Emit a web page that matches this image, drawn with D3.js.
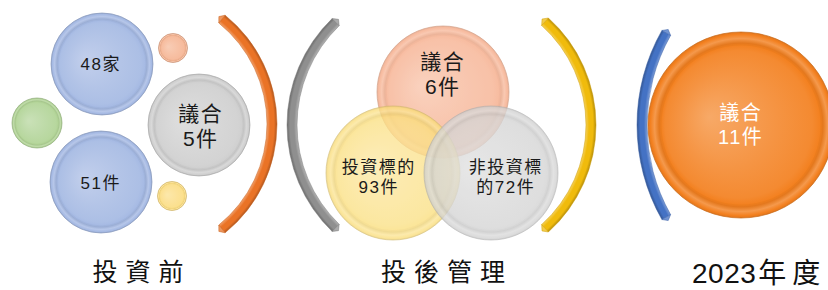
<!DOCTYPE html>
<html>
<head>
<meta charset="utf-8">
<script src="https://cdn.jsdelivr.net/npm/d3@7"></script>
<style>
  body { margin: 0; background: #fff; }
  svg { display: block; }
</style>
</head>
<body>
<svg id="chart" width="828" height="290"></svg>
<script>
// section captions under each group
const sections = ['投資前', '投後管理', '2023年度'];

// text in each bubble, one entry per line
const preLabels = [['48家'], ['51件'], ['議合', '5件']];
const postLabels = [['議合', '6件'], ['投資標的', '93件'], ['非投資標', '的72件']];
const yearLabels = [['議合', '11件']];

// layout (kept apart from the data above)
const preBubbles = [
  { cx: 102, cy: 64, r: 51, color: '#a5b9e3', tx: 100, ty: 64, size: 17 },
  { cx: 101, cy: 182, r: 51, color: '#a5b9e3', tx: 100, ty: 183, size: 17 },
  { cx: 199, cy: 125, r: 51, color: '#cfcfcf', tx: 200, ty: 126, size: 21 }
];
const preDots = [
  { cx: 37, cy: 123, r: 25, color: '#b1d396' },
  { cx: 173, cy: 48, r: 14.5, color: '#f5b594' },
  { cx: 172, cy: 196, r: 14.5, color: '#fbdd84' }
];
const postBubbles = [
  { cx: 443, cy: 92, r: 66, color: '#f6a985', tx: 442, ty: 74, size: 21 },
  { cx: 393, cy: 173, r: 67, color: '#fbde7c', tx: 378, ty: 177, size: 17 },
  { cx: 491, cy: 173, r: 67, color: '#d2d2d2', tx: 505, ty: 177, size: 17 }
];
const yearBubbles = [
  { cx: 741, cy: 125, r: 93, color: '#f3801f', tx: 740, ty: 125, size: 20, fill: '#fff' }
];
const bands = [
  { cx: 137, cy: 124, r: 135, w: 10, side: 'right', half: 51, color: '#ea7326' },
  { cx: 435, cy: 125, r: 143, w: 10, side: 'left', half: 46, color: '#8f8f8f' },
  { cx: 452, cy: 125, r: 139, w: 10, side: 'right', half: 48, color: '#f0bb0c' },
  { cx: 829, cy: 125, r: 187, w: 10, side: 'left', half: 29.5, color: '#4472c4' }
];
const captions = [
  { x: 138, y: 281, anchor: 'middle' },
  { x: 443, y: 281, anchor: 'middle' },
  { x: 692, y: 283, anchor: 'start' }
];

const svg = d3.select('#chart');
const defs = svg.append('defs');
let uid = 0;
const tint = (c, t) => d3.interpolateRgb(c, '#ffffff')(t);
const shade = (c, t) => d3.interpolateRgb(c, '#000000')(t);
const font = '"Liberation Sans", "Noto Sans CJK TC", sans-serif';

svg.append('rect').attr('width', 828).attr('height', 290).attr('fill', '#fff');

const addStops = (grad, stops) => {
  stops.forEach(s => {
    grad.append('stop').attr('offset', s[0]).attr('stop-color', s[1]);
  });
};

// glossy "button" bubble: outer ring + lighter inner disc
const drawBubble = (g, b, alpha) => {
  const ringId = 'ring' + uid++;
  const discId = 'disc' + uid++;
  const c = b.color;

  addStops(defs.append('radialGradient').attr('id', ringId), [
    [0, c], [0.85, c], [0.88, shade(c, 0.06)],
    [0.93, tint(c, 0.2)], [0.975, c], [1, shade(c, 0.08)]
  ]);
  addStops(defs.append('radialGradient').attr('id', discId)
    .attr('fx', '0.3').attr('fy', '0.45'), [
    [0, tint(c, 0.32)], [0.6, tint(c, 0.16)], [0.92, tint(c, 0.08)], [1, c]
  ]);

  const grp = g.append('g').attr('opacity', alpha);
  grp.append('circle')
    .attr('cx', b.cx).attr('cy', b.cy).attr('r', b.r)
    .attr('fill', `url(#${ringId})`)
    .attr('stroke', shade(c, 0.18)).attr('stroke-width', 0.7);
  grp.append('circle')
    .attr('cx', b.cx).attr('cy', b.cy).attr('r', b.r * 0.86)
    .attr('fill', `url(#${discId})`)
    .attr('stroke', shade(c, 0.05)).attr('stroke-width', 0.5);
};

const drawLabel = (g, b, lines) => {
  const lh = b.size * 1.22;
  const ls = 1.5;
  const t = g.append('text')
    .attr('text-anchor', 'middle')
    .attr('font-family', font)
    .attr('font-size', b.size)
    .attr('letter-spacing', ls)
    .attr('fill', b.fill || '#1a1a1a');
  lines.forEach((line, i) => {
    t.append('tspan')
      .attr('x', b.tx + ls / 2)
      .attr('y', b.ty + (i - (lines.length - 1) / 2) * lh)
      .attr('dy', '0.36em')
      .text(line);
  });
};

// thick curved bracket with bevelled, pointed ends
const drawBand = (g, a) => {
  const id = 'band' + uid++;
  const inner = a.r - a.w / 2;
  const outer = a.r + a.w / 2;
  const grad = defs.append('radialGradient').attr('id', id)
    .attr('gradientUnits', 'userSpaceOnUse')
    .attr('cx', 0).attr('cy', 0).attr('r', outer);
  addStops(grad, [
    [inner / outer, tint(a.color, 0.3)],
    [(inner + a.w * 0.3) / outer, a.color],
    [(inner + a.w * 0.7) / outer, a.color],
    [1, shade(a.color, 0.25)]
  ]);
  const mid = a.side === 'right' ? Math.PI / 2 : -Math.PI / 2;
  const h = a.half * Math.PI / 180;
  const arc = d3.arc()
    .innerRadius(inner).outerRadius(outer)
    .startAngle(mid - h).endAngle(mid + h);
  const bg = g.append('g').attr('transform', `translate(${a.cx},${a.cy})`);
  bg.append('path')
    .attr('d', arc())
    .attr('fill', `url(#${id})`)
    .attr('stroke', shade(a.color, 0.15))
    .attr('stroke-width', 0.5);

  // end caps: small facet pointing along the tangent
  const pt = (r, t) => [r * Math.sin(t), -r * Math.cos(t)];
  [[mid - h, -1], [mid + h, 1]].forEach(([t, dir]) => {
    const tip = pt(a.r, t);
    const tx = Math.cos(t) * dir * 4;
    const ty = Math.sin(t) * dir * 4;
    const p = [pt(inner, t), [tip[0] + tx, tip[1] + ty], pt(outer, t)];
    bg.append('path')
      .attr('d', d3.line()(p) + 'Z')
      .attr('fill', tint(a.color, 0.25))
      .attr('stroke', shade(a.color, 0.15))
      .attr('stroke-width', 0.5);
  });
};

const gBands = svg.append('g');
bands.forEach(a => drawBand(gBands, a));

const gPre = svg.append('g');
preDots.forEach(b => drawBubble(gPre, b, 1));
preBubbles.forEach(b => drawBubble(gPre, b, 1));
preBubbles.forEach((b, i) => drawLabel(gPre, b, preLabels[i]));

const gPost = svg.append('g');
postBubbles.forEach(b => drawBubble(gPost, b, 0.78));
postBubbles.forEach((b, i) => drawLabel(gPost, b, postLabels[i]));

const gYear = svg.append('g');
yearBubbles.forEach(b => drawBubble(gYear, b, 1));
yearBubbles.forEach((b, i) => drawLabel(gYear, b, yearLabels[i]));

// captions
const pos = d3.scaleOrdinal().domain(sections).range(captions);
sections.forEach(s => {
  const p = pos(s);
  const ls = p.anchor === 'start' ? 0.5 : 8;
  const t = svg.append('text')
    .attr('x', p.anchor === 'start' ? p.x : p.x + ls / 2).attr('y', p.y)
    .attr('text-anchor', p.anchor)
    .attr('font-family', font)
    .attr('font-size', p.anchor === 'start' ? 28 : 25)
    .attr('letter-spacing', ls)
    .attr('fill', '#111');
  const m = s.match(/^(\d+)(.*)$/);
  if (m) {
    t.append('tspan').text(m[1]);
    t.append('tspan').attr('dx', 2).attr('letter-spacing', 6).text(m[2]);
  } else {
    t.text(s);
  }
});
</script>
</body>
</html>
